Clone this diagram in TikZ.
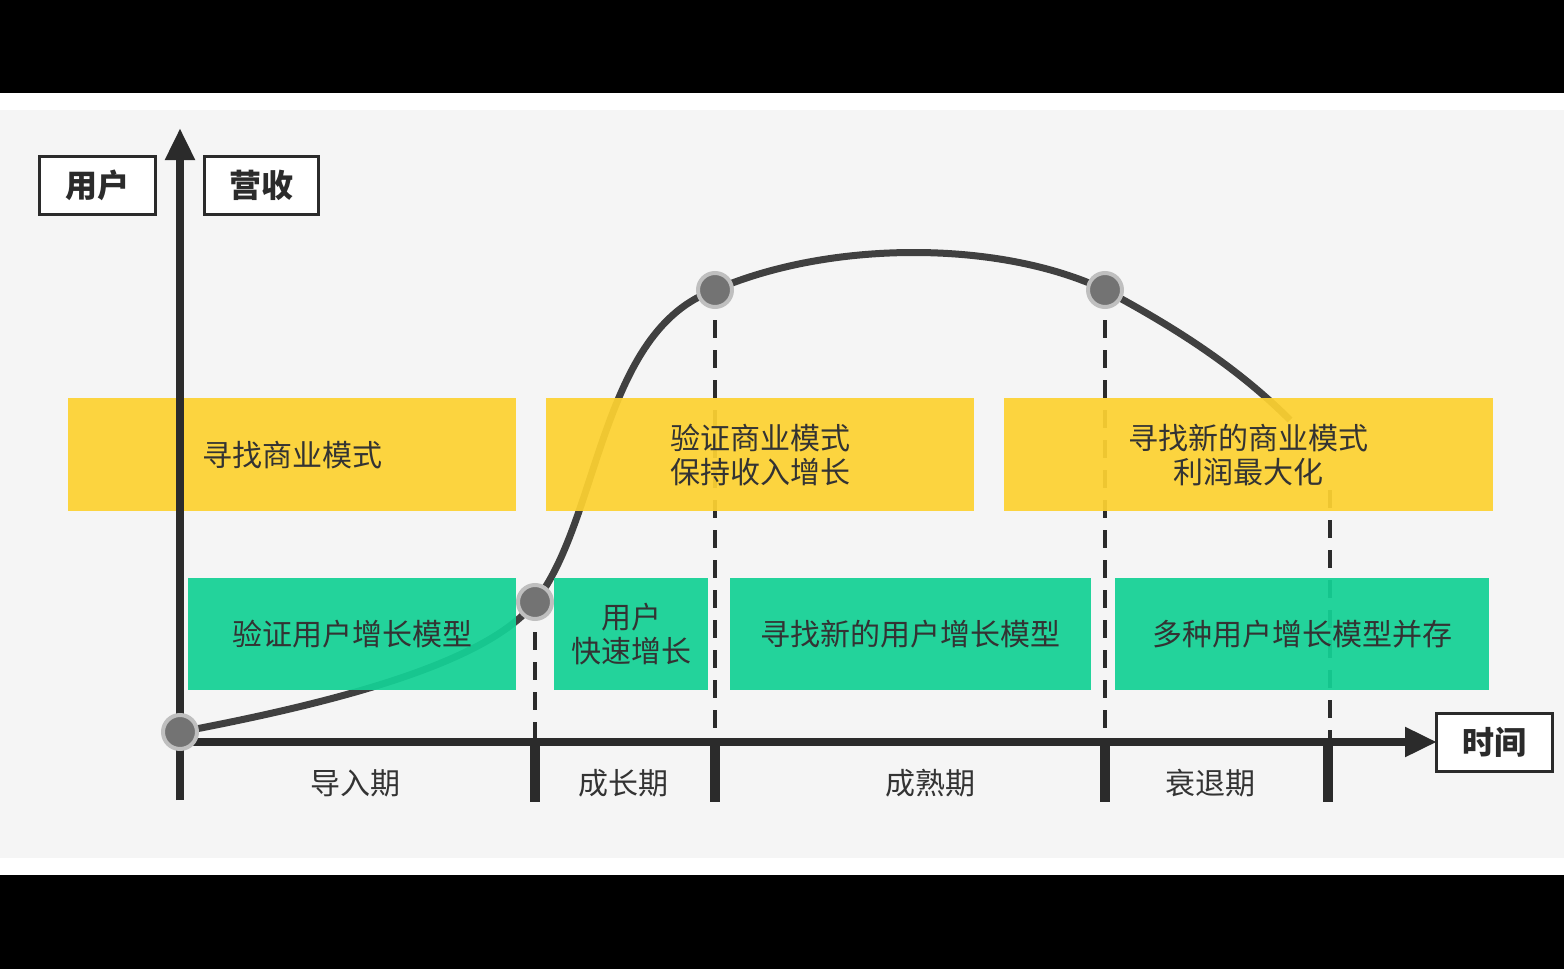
\documentclass[tikz,border=0pt]{standalone}
\usepackage{fontspec}
\newfontfamily\cjk{Noto Sans CJK SC}
\usetikzlibrary{arrows.meta}
\definecolor{ybox}{HTML}{FDD232}
\definecolor{gbox}{HTML}{14D195}
\definecolor{txt}{HTML}{333333}
\definecolor{ax}{HTML}{2B2B2B}
\begin{document}
\begin{tikzpicture}[x=0.5pt,y=-0.5pt,
  yb/.style={fill=ybox,fill opacity=0.93,text opacity=1,inner sep=0,anchor=north west,text=txt,font=\cjk\fontsize{15}{17}\selectfont,align=center},
  gb/.style={fill=gbox,fill opacity=0.93,text opacity=1,inner sep=0,anchor=north west,text=txt,font=\cjk\fontsize{15}{17}\selectfont,align=center},
  lab/.style={draw=ax,line width=1.5pt,fill=white,inner sep=0,anchor=north west,font=\cjk\bfseries\fontsize{16}{18}\selectfont,text=ax},
  stage/.style={font=\cjk\fontsize{15}{17}\selectfont,text=txt},
  pt/.style={circle,fill=gray!90!black,draw=gray!50,line width=2pt,minimum size=17pt,inner sep=0},
  dsh/.style={ax,line width=1.8pt,dash pattern=on 9pt off 6pt}]
\useasboundingbox (0,0) rectangle (1564,969);
\fill[black] (0,0) rectangle (1564,969);
\fill[white] (0,93) rectangle (1564,875);
\fill[black!4] (0,110) rectangle (1564,858);
% curve
\draw[gray!50!black,line width=3.5pt] (180,732) .. controls (350,700) and (490,660) .. (535,602)
  .. controls (600,520) and (600,330) .. (715,290)
  .. controls (830,240) and (1000,240) .. (1105,290)
  .. controls (1180,330) and (1240,370) .. (1290,420);
% dashed
\coordinate (d1t) at (535,602); \coordinate (d1b) at (535,742);
\coordinate (d2t) at (715,290); \coordinate (d2b) at (715,742);
\coordinate (d3t) at (1105,290); \coordinate (d3b) at (1105,742);
\coordinate (d4t) at (1330,490); \coordinate (d4b) at (1330,742);
\foreach \a in {1,2,3,4} \draw[dsh] (d\a t) -- (d\a b);
% boxes
\node[yb,minimum width=224pt,minimum height=56.5pt] (y1) at (68,398) {寻找商业模式};
\node[yb,minimum width=214pt,minimum height=56.5pt] (y2) at (546,398) {验证商业模式\\保持收入增长};
\node[yb,minimum width=244.5pt,minimum height=56.5pt] (y3) at (1004,398) {寻找新的商业模式\\利润最大化};
\node[gb,minimum width=164pt,minimum height=56pt] (g1) at (188,578) {验证用户增长模型};
\node[gb,minimum width=77pt,minimum height=56pt] (g2) at (554,578) {用户\\快速增长};
\node[gb,minimum width=180.5pt,minimum height=56pt] (g3) at (730,578) {寻找新的用户增长模型};
\node[gb,minimum width=187pt,minimum height=56pt] (g4) at (1115,578) {多种用户增长模型并存};
% axes
\coordinate (o) at (180,742);
\coordinate (ob) at (180,800);
\coordinate (yt) at (180,128);
\coordinate (xr) at (1437,742);
\draw[ax,line width=4pt,-{Triangle[length=16pt,width=14pt]}] (ob) -- (yt);
\draw[ax,line width=4pt,-{Triangle[length=16pt,width=14pt]}] (o) -- (xr);
\coordinate (t1a) at (535,742); \coordinate (t1b) at (535,802);
\coordinate (t2a) at (715,742); \coordinate (t2b) at (715,802);
\coordinate (t3a) at (1105,742); \coordinate (t3b) at (1105,802);
\coordinate (t4a) at (1328,742); \coordinate (t4b) at (1328,802);
\foreach \a in {1,2,3,4} \draw[ax,line width=5pt] (t\a a) -- (t\a b);
% points
\node[pt] (p1) at (180,732) {};
\node[pt] (p2) at (535,602) {};
\node[pt] (p3) at (715,290) {};
\node[pt] (p4) at (1105,290) {};
% labels
\node[lab,minimum width=58pt,minimum height=29pt] (u) at (38,155) {用户};
\node[lab,minimum width=57pt,minimum height=29pt] (r) at (203,155) {营收};
\node[lab,minimum width=58pt,minimum height=29pt] (t) at (1435,712) {时间};
\node[stage] (s1) at (355,783) {导入期};
\node[stage] (s2) at (623,783) {成长期};
\node[stage] (s3) at (930,783) {成熟期};
\node[stage] (s4) at (1210,783) {衰退期};
\end{tikzpicture}
\end{document}
